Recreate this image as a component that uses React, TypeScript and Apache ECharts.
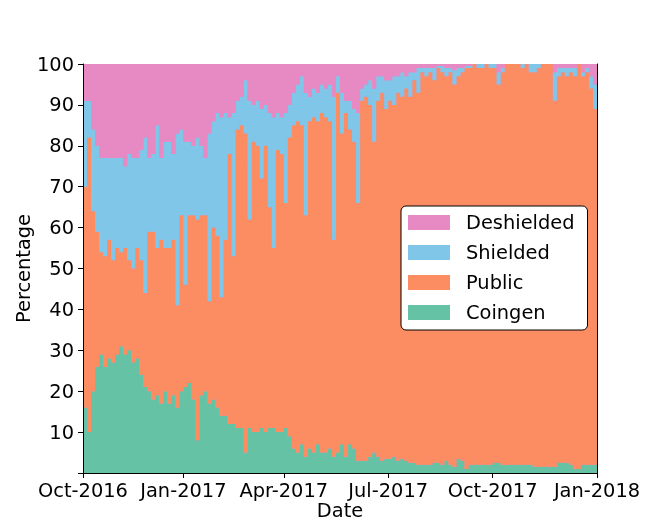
import React, { useEffect, useRef } from "react";
import * as echarts from "echarts";

const legendOrder = ["Deshielded", "Shielded", "Public", "Coingen"];
const tickLabels = ["Oct-2016", "Jan-2017", "Apr-2017", "Jul-2017", "Oct-2017", "Jan-2018"];
const tickSampleIndex = [0, 25, 50, 76, 102, 128];

const coingen = [
  16, 10, 20, 26, 29, 26, 28, 27, 29, 31,
  29, 30, 27, 28, 24, 21, 20, 18, 19, 17,
  20, 17, 19, 16, 20, 21, 22, 18, 8, 19,
  20, 17, 18, 16, 14, 14, 12, 12, 11, 11,
  5, 11, 10, 10, 11, 10, 11, 11, 10, 10,
  11, 9, 6, 5, 7, 4, 6, 5, 7, 5,
  5, 6, 4, 5, 7, 4, 7, 6, 3, 3,
  3, 4, 5, 4, 3, 3.5, 3.5, 4, 3, 3.5,
  3, 2.5, 2.5, 2, 2, 2, 2, 2.5, 2.5, 2,
  3, 2, 1.5, 3.5, 3, 1, 2, 2, 2, 2,
  2, 2, 2.5, 2.5, 2, 2, 2, 2, 2, 2,
  2, 2, 1.5, 1.5, 1.5, 1.5, 1.5, 1.5, 2.5, 2.5,
  2.5, 2, 1, 1, 2, 2, 2, 2, 4.5,
];

const publicShare = [
  54, 72, 44, 33, 25, 27, 29, 25, 26, 23,
  26, 22, 23, 27, 28, 23, 39, 41, 36, 40,
  35, 38, 38, 25, 43, 25, 41, 45, 54, 44,
  43, 25, 42, 42, 29, 43, 66, 41, 73, 74,
  78, 51, 71, 70, 61, 70, 54, 44, 69, 68,
  55, 73, 79, 81, 78, 59, 80, 82, 79, 83,
  82, 80, 53, 88, 76, 84, 77, 75, 63, 88,
  89, 86, 76, 87, 90, 85.5, 87.5, 86, 90, 88.5,
  91, 89.5, 93.5, 91, 96, 95, 96, 93.5, 96.5, 96,
  94, 96, 93.5, 93.5, 95, 98, 97, 98, 97, 97,
  98, 97, 96.5, 92.5, 96, 98, 98, 98, 98, 97,
  98, 96, 96.5, 97.5, 98.5, 98.5, 98.5, 89.5, 94.5, 95.5,
  94.5, 96, 96, 99, 95, 96, 92, 87, 79.5,
];

const shielded = [
  21, 9, 20, 21, 23, 24, 20, 25, 22, 23,
  20, 26, 27, 22, 27, 38, 18, 19, 30, 20,
  26, 26, 21, 42, 21, 35, 18, 17, 20, 17,
  14, 41, 26, 30, 44, 31, 9, 35, 7, 7,
  13, 29, 9, 11, 17, 10, 23, 32, 9, 9,
  22, 8, 8, 9, 12, 30, 6, 7, 7, 7,
  7, 9, 35, 4, 10, 3, 7, 8, 22, 3,
  3, 6, 13, 6, 4, 7, 5, 7, 4, 6,
  3, 6, 2, 6, 1, 2, 1, 3, 0.5, 1.5,
  2, 1, 3.5, 2, 1, 0.5, 0.5, 0, 1, 1,
  0, 1, 1, 3, 1, 0, 0, 0, 0, 1,
  0, 2, 2, 1, 0, 0, 0, 7, 2, 1,
  2, 1, 2, 0, 1, 1, 3, 6, 7,
];

const deshielded = [
  9, 9, 16, 20, 23, 23, 23, 23, 23, 23,
  25, 22, 23, 23, 21, 18, 23, 22, 15, 23,
  19, 19, 22, 17, 16, 19, 19, 20, 18, 20,
  23, 17, 14, 12, 13, 12, 13, 12, 9, 8,
  4, 9, 10, 9, 11, 10, 12, 13, 12, 13,
  12, 10, 7, 5, 3, 7, 8, 6, 7, 5,
  6, 5, 8, 3, 7, 9, 9, 11, 12, 6,
  5, 4, 6, 3, 3, 4, 4, 3, 3, 2,
  3, 2, 2, 1, 1, 1, 1, 1, 0.5, 0.5,
  1, 1, 1.5, 1, 1, 0.5, 0.5, 0, 0, 0,
  0, 0, 0, 2, 1, 0, 0, 0, 0, 0,
  0, 0, 0, 0, 0, 0, 0, 2, 1, 1,
  1, 1, 1, 0, 2, 1, 3, 5, 9,
];

const categories = coingen.map((_, i) => String(i));

const COLORS = {
  Coingen: "#66c2a5",
  Public: "#fc8d62",
  Shielded: "#7fc6e8",
  Deshielded: "#e78ac3",
};

const FONT = "DejaVu Sans";
const FS = 19.4;

function makeSeries(name: string, data: number[]) {
  const color = (COLORS as any)[name];
  return {
    name,
    type: "line",
    stack: "total",
    step: "end",
    data,
    showSymbol: false,
    symbol: "none",
    lineStyle: { width: 0, color },
    itemStyle: { color },
    areaStyle: { color, opacity: 1 },
    emphasis: { disabled: true },
    silent: true,
  };
}

export default function App() {
  const ref = useRef<HTMLDivElement>(null);
  useEffect(() => {
    if (!ref.current) return;
    const chart = echarts.init(ref.current, null, { renderer: "svg" });
    const tickFn = (index: number) => tickSampleIndex.indexOf(index) >= 0;
    chart.setOption({
      animation: false,
      textStyle: { fontFamily: FONT, color: "#000" },
      grid: {
        left: 83,
        right: 67,
        top: 64,
        bottom: 59,
        show: true,
        backgroundColor: COLORS.Deshielded,
        borderWidth: 0,
      },
      legend: {
        data: legendOrder,
        orient: "vertical",
        left: 401,
        top: 206,
        icon: "rect",
        itemWidth: 42,
        itemHeight: 15,
        itemGap: 11,
        padding: [7, 13, 8, 7],
        backgroundColor: "#fff",
        borderColor: "#000",
        borderWidth: 1,
        borderRadius: 5,
        textStyle: {
          fontFamily: FONT,
          fontSize: FS,
          color: "#000",
          padding: [0, 0, 0, 11],
        },
        selectedMode: false,
      },
      xAxis: [
        {
          type: "category",
          data: categories,
          boundaryGap: false,
          z: 10,
          name: "Date",
          nameLocation: "middle",
          nameGap: 28,
          nameMoveOverlap: false,
          nameTextStyle: { fontFamily: FONT, fontSize: FS, color: "#000" },
          axisLine: { show: true, lineStyle: { color: "#000", width: 1 } },
          axisTick: { show: true, interval: tickFn, length: 5, lineStyle: { color: "#000" } },
          axisLabel: {
            interval: tickFn,
            margin: 8,
            fontFamily: FONT,
            fontSize: FS,
            color: "#000",
            formatter: (_v: string, index: number) => {
              const k = tickSampleIndex.indexOf(index);
              return k >= 0 ? tickLabels[k] : "";
            },
          },
          splitLine: { show: false },
        },
        {
          type: "category",
          data: categories,
          boundaryGap: false,
          position: "top",
          z: 10,
          axisLine: { show: true, lineStyle: { color: "#000", width: 1 } },
          axisTick: { show: false },
          axisLabel: { show: false },
          splitLine: { show: false },
        },
      ],
      yAxis: [
        {
          type: "value",
          min: 0,
          max: 100,
          interval: 10,
          z: 10,
          name: "Percentage",
          nameLocation: "middle",
          nameGap: 50,
          nameMoveOverlap: false,
          nameTextStyle: { fontFamily: FONT, fontSize: FS, color: "#000" },
          axisLine: { show: true, lineStyle: { color: "#000", width: 1 } },
          axisTick: { show: true, length: 5, lineStyle: { color: "#000" } },
          axisLabel: {
            margin: 9,
            fontFamily: FONT,
            fontSize: FS,
            color: "#000",
            formatter: (v: number) => (v === 0 ? "" : String(v)),
          },
          splitLine: { show: false },
        },
        {
          type: "value",
          min: 0,
          max: 100,
          interval: 10,
          position: "right",
          z: 10,
          axisLine: { show: true, lineStyle: { color: "#000", width: 1 } },
          axisTick: { show: false },
          axisLabel: { show: false },
          splitLine: { show: false },
        },
      ],
      series: [
        makeSeries("Coingen", coingen),
        makeSeries("Public", publicShare),
        makeSeries("Shielded", shielded),
        makeSeries("Deshielded", deshielded),
      ],
    });
    return () => chart.dispose();
  }, []);
  return (
    <div
      ref={ref}
      style={{ position: "fixed", left: 0, top: 0, width: 664, height: 532 }}
    />
  );
}
